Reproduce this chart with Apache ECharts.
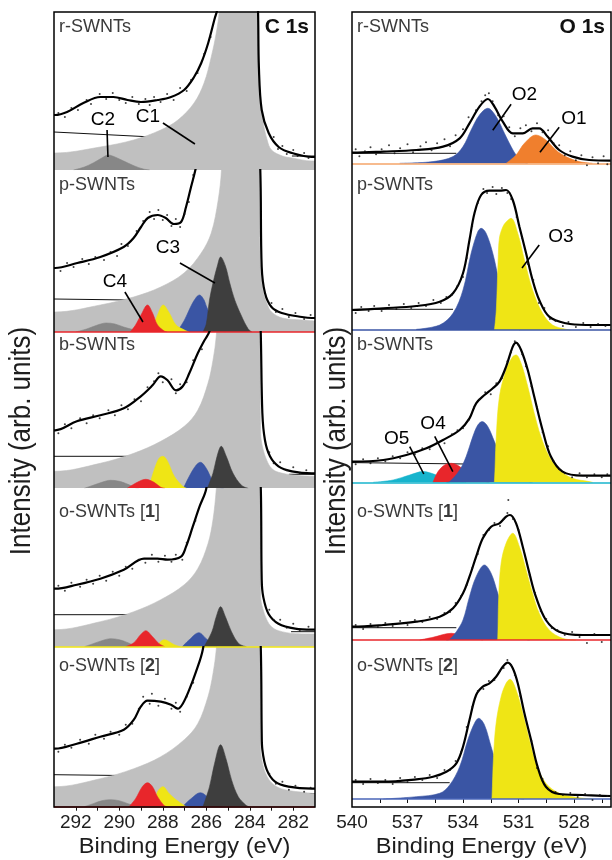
<!DOCTYPE html>
<html>
<head>
<meta charset="utf-8">
<script src="https://cdn.jsdelivr.net/npm/echarts@6/dist/echarts.min.js"></script>
<style>
  html, body { margin: 0; padding: 0; background: #fff; }
  #chart { width: 612px; height: 860px; }
</style>
</head>
<body>
<div id="chart"></div>
<script>
// XPS core-level spectra of SWNT samples: C 1s (left column) and O 1s (right column).
// Points are [binding energy (eV), intensity above the panel baseline (arb. units)].

const C_RANGE = [281, 293];
const O_RANGE = [526, 540];
const C_TICKS = [292, 290, 288, 286, 284, 282];
const O_TICKS = [540, 537, 534, 531, 528];
const C_MINOR = [292, 291, 290, 289, 288, 287, 286, 285, 284, 283, 282];
const O_MINOR = [538.5, 537, 535.5, 534, 532.5, 531, 529.5, 528, 526.5];
const SAMPLES = ['r-SWNTs', 'p-SWNTs', 'b-SWNTs', 'o-SWNTs [1]', 'o-SWNTs [2]'];

// ---------- C 1s : r-SWNTs ----------
const cR_fit = [[293,55],[292.95,55],[292.4,58],[291.65,67],[290.87,73],[290.27,73],[289.62,70],[289.0,68],[288.23,70],[287.62,73],[287.02,80],[286.56,93],[286.23,107],[285.91,127],[285.63,150],[285.45,165],[285.2,260],[284.8,420],[284.4,420],[284.0,300],[283.7,200],[283.62,160],[283.58,103],[283.45,60],[283.13,37],[282.67,23],[282.06,17],[281.14,13],[281,13]];
const cR_raw = [[292.8,57],[292.5,53],[292.2,62],[291.9,60],[291.5,70],[291.3,66],[290.9,76],[290.6,71],[290.3,77],[290.0,70],[289.7,67],[289.4,73],[289.1,66],[288.8,71],[288.6,65],[288.4,73],[288.1,68],[287.8,76],[287.5,70],[287.2,82],[286.9,79],[286.7,90],[286.4,97],[286.1,116],[285.8,133],[282.9,33],[282.7,21],[282.5,24],[282.3,16],[282.0,20],[281.8,14],[281.5,17],[281.3,12]];
const cR_c1 = [[293,17],[292.95,17],[290.87,23],[289.34,30],[288.09,40],[287.3,50],[286.56,67],[286.1,87],[285.77,113],[285.54,137],[285.4,160],[285.2,260],[284.8,420],[284.4,420],[284.0,300],[283.7,200],[283.64,158],[283.58,90],[283.4,50],[283.2,30],[283.0,20],[282.5,14],[282.06,12],[281.14,9],[281,9]];
const cR_c2 = [[292.1,0],[291.6,3],[291.2,7],[290.8,12],[290.5,15],[290.2,13],[289.8,9],[289.3,4],[288.9,1],[288.6,0]];
const cR_bgHigh = [[293,38],[288.46,33]];
const cR_bgLow = [[282.06,14],[281,14]];

// ---------- C 1s : p-SWNTs ----------
const cP_fit = [[293,64],[292.95,64],[291.93,69],[290.87,75],[289.8,85],[289.34,94],[289.0,105],[288.69,114],[288.23,117],[287.86,114],[287.49,108],[287.16,110],[286.93,125],[286.7,145],[286.47,165],[286.0,220],[285.5,320],[285.0,450],[284.5,500],[284.0,350],[283.7,220],[283.52,165],[283.45,65],[283.3,39],[283.0,25],[282.53,19],[281.6,15],[281.14,14],[281,14]];
const cP_raw = [[292.7,61],[292.4,69],[292.1,65],[291.7,73],[291.4,68],[291.1,75],[290.7,72],[290.4,80],[290.1,76],[289.9,88],[289.6,86],[289.2,101],[288.9,111],[288.6,120],[288.4,113],[288.2,122],[288.0,112],[287.8,117],[287.6,106],[287.4,113],[287.2,105],[287.0,118],[286.8,130],[286.6,157],[283.0,29],[282.8,20],[282.5,23],[282.2,15],[281.9,19],[281.5,13],[281.2,17]];
const cP_c1 = [[293,20],[292.95,20],[290.87,27],[289.34,35],[288.09,45],[287.02,59],[286.23,79],[285.77,99],[285.45,132],[285.3,162],[285.0,300],[284.6,450],[284.2,400],[283.8,250],[283.56,162],[283.52,72],[283.4,42],[283.2,28],[283.0,20],[282.5,14],[281.6,12],[281,11]];
const cP_c2 = [[292.0,0],[291.5,3],[291.0,7],[290.6,9],[290.2,8],[289.8,5],[289.3,2],[288.9,0]];
const cP_c3 = [[286.15,0],[286.0,8],[285.85,32],[285.69,49],[285.49,66],[285.34,75],[285.12,66],[284.92,49],[284.69,32],[284.38,16],[284.07,3],[283.9,0]];
const cP_blue = [[287.35,0],[287.0,12],[286.7,26],[286.45,35],[286.31,37],[286.1,32],[286.0,26],[285.62,9],[285.3,1],[285.1,0]];
const cP_yellow = [[288.55,0],[288.24,17],[287.98,27],[287.7,19],[287.39,7],[287.0,2],[286.8,0]];
const cP_c4 = [[289.5,0],[289.25,7],[289.0,17],[288.7,27],[288.47,19],[288.24,7],[287.93,1],[287.8,0]];
const cP_bgHigh = [[293,33],[289.5,32]];
const cP_bgLow = [[282.0,10],[281,10]];

// ---------- C 1s : b-SWNTs ----------
const cB_fit = [[293,58],[292.95,58],[291.95,67],[290.87,73],[289.79,80],[289.01,92],[288.47,103],[288.09,112],[287.78,108],[287.39,98],[287.08,102],[286.78,115],[286.39,135],[286.08,148],[285.85,157],[285.6,185],[285.2,300],[284.8,450],[284.3,450],[283.9,300],[283.6,200],[283.5,160],[283.42,75],[283.3,48],[283.07,32],[282.68,22],[282.06,17],[281.14,15],[281,15]];
const cB_raw = [[292.8,55],[292.5,64],[292.2,60],[291.8,70],[291.5,65],[291.2,73],[290.9,70],[290.5,78],[290.2,73],[289.9,83],[289.6,79],[289.3,89],[289.0,87],[288.7,101],[288.4,107],[288.2,115],[288.0,106],[287.6,109],[287.4,95],[287.2,104],[286.9,106],[286.6,128],[286.2,139],[283.1,36],[282.9,25],[282.6,26],[282.3,18],[282.0,21],[281.7,15],[281.4,18]];
const cB_c1 = [[293,17],[292.95,17],[290.87,25],[289.33,35],[288.09,47],[287.01,62],[286.39,78],[285.92,105],[285.69,128],[285.54,152],[285.4,200],[285.0,350],[284.6,450],[284.2,400],[283.8,250],[283.54,158],[283.5,55],[283.4,40],[283.22,28],[283.0,20],[282.68,16],[281.91,13],[281,12]];
const cB_c2 = [[291.6,0],[291.2,3],[290.8,6],[290.4,8],[290.0,7],[289.6,4],[289.3,1],[289.1,0]];
const cB_c3 = [[285.95,0],[285.69,15],[285.49,33],[285.31,42],[285.08,32],[284.77,15],[284.38,3],[284.07,0]];
const cB_blue = [[287.05,0],[286.78,12],[286.47,23],[286.27,26],[286.0,20],[285.69,7],[285.38,1],[285.2,0]];
const cB_yellow = [[288.65,0],[288.4,18],[288.17,30],[287.99,32],[287.78,27],[287.47,12],[287.08,2],[286.9,0]];
const cB_c4 = [[289.63,0],[289.17,6],[288.78,9],[288.4,6],[288.09,1],[287.9,0]];
const cB_bgHigh = [[293,32],[289.45,32]];
const cB_bgLow = [[282.2,14],[281,14]];

// ---------- C 1s : o-SWNTs [1] ----------
const cO1_fit = [[293,58],[292.95,58],[291.95,62],[290.87,68],[289.79,77],[288.86,88],[288.24,88],[287.78,87],[287.16,90],[286.93,100],[286.62,120],[286.31,140],[286.0,158],[285.6,220],[285.2,330],[284.8,450],[284.3,450],[283.9,300],[283.6,200],[283.49,157],[283.45,67],[283.38,50],[283.14,33],[282.68,23],[281.91,18],[281.14,17],[281,17]];
const cO1_raw = [[292.8,61],[292.5,56],[292.2,64],[291.8,60],[291.5,67],[291.2,63],[290.9,71],[290.6,66],[290.3,75],[290.0,71],[289.7,80],[289.4,78],[289.1,87],[288.8,84],[288.5,92],[288.2,85],[287.9,91],[287.6,85],[287.4,92],[287.1,87],[286.9,104],[286.5,126],[283.1,37],[282.9,27],[282.6,27],[282.3,19],[282.0,23],[281.7,16],[281.3,20]];
const cO1_c1 = [[293,17],[292.95,17],[290.87,25],[289.33,35],[288.09,47],[287.01,62],[286.39,78],[285.92,103],[285.69,127],[285.54,157],[285.4,200],[285.0,350],[284.6,450],[284.2,400],[283.8,250],[283.54,158],[283.5,50],[283.4,38],[283.22,27],[283.0,20],[282.68,16],[281.91,13],[281,12.7]];
const cO1_c2 = [[291.6,0],[291.2,3],[290.8,6],[290.4,8],[290.0,7],[289.6,4],[289.3,1],[289.1,0]];
const cO1_c3 = [[286.1,0],[285.74,15],[285.54,30],[285.34,40],[285.12,30],[284.84,15],[284.5,3],[284.15,0]];
const cO1_blue = [[287.1,0],[286.78,7],[286.34,14],[286.0,8],[285.62,1],[285.5,0]];
const cO1_yellow = [[288.3,0],[287.93,7],[287.47,2],[287.2,0]];
const cO1_c4 = [[289.71,0],[289.33,4],[289.02,12],[288.78,16],[288.47,10],[288.17,3],[287.9,0]];
const cO1_bgHigh = [[293,32],[289.2,32]];
const cO1_bgLow = [[282.1,15],[281,15]];

// ---------- C 1s : o-SWNTs [2] ----------
const cO2_fit = [[293,58],[292.95,58],[291.95,63],[290.87,70],[289.79,77],[289.33,87],[289.01,100],[288.7,106],[288.09,105],[287.62,102],[287.31,98],[287.08,103],[286.78,117],[286.47,135],[286.16,157],[285.8,210],[285.3,330],[284.8,450],[284.3,450],[283.9,300],[283.6,200],[283.49,157],[283.45,73],[283.42,57],[283.22,37],[282.84,25],[282.22,20],[281.14,18],[281,18]];
const cO2_raw = [[292.8,55],[292.5,62],[292.2,59],[291.8,67],[291.4,63],[291.1,72],[290.7,68],[290.4,75],[290.0,72],[289.7,82],[289.4,83],[289.1,98],[288.9,110],[288.6,103],[288.5,113],[288.2,101],[287.9,108],[287.6,98],[287.4,104],[287.2,95],[286.9,110],[286.6,124],[283.1,33],[282.8,23],[282.5,25],[282.2,17],[281.9,21],[281.5,15],[281.2,19]];
const cO2_c1 = [[293,20],[292.95,20],[290.87,28],[289.33,38],[288.09,50],[287.01,67],[286.39,83],[285.92,110],[285.69,133],[285.54,157],[285.4,200],[285.0,350],[284.6,450],[284.2,400],[283.8,250],[283.54,158],[283.5,57],[283.4,42],[283.2,30],[282.9,22],[282.4,17],[281.4,14],[281,13]];
const cO2_c2 = [[291.6,0],[291.2,3],[290.8,6],[290.4,7],[290.0,6],[289.6,3],[289.3,1],[289.1,0]];
const cO2_c3 = [[286.15,0],[285.85,20],[285.62,43],[285.34,62],[285.08,47],[284.84,27],[284.53,10],[284.2,2],[284.05,0]];
const cO2_blue = [[287.1,0],[286.7,8],[286.27,14],[285.85,8],[285.46,1],[285.3,0]];
const cO2_yellow = [[288.45,0],[288.24,15],[287.99,20],[287.7,13],[287.39,7],[287.0,1],[286.9,0]];
const cO2_c4 = [[289.55,0],[289.25,8],[288.94,20],[288.7,24],[288.47,20],[288.24,10],[287.93,1],[287.8,0]];
const cO2_bgHigh = [[293,32],[289.2,31]];
const cO2_bgLow = [[282.0,13],[281,13]];

// ---------- O 1s : r-SWNTs ----------
const oR_fit = [[540,10.7],[539.93,10.7],[538.31,11.7],[536.52,13.3],[535.08,16.7],[534.18,25],[533.65,40],[533.11,56.7],[532.66,64.3],[532.3,56.7],[531.85,41.7],[531.31,30],[530.77,30],[530.24,35],[529.88,35],[529.43,26.7],[528.8,13.3],[528.08,6.7],[527.18,3.3],[526.02,2.7],[526,2.7]];
const oR_raw = [[539.8,14],[539.6,7],[539.3,12],[539.0,16],[538.7,9],[538.4,14],[538.0,18],[537.7,10],[537.4,15],[537.0,19],[536.7,11],[536.3,17],[536.0,21],[535.7,13],[535.4,20],[535.0,24],[534.7,17],[534.4,28],[534.0,34],[533.7,46],[533.3,53],[533.0,62],[532.8,68],[532.6,70],[532.4,62],[532.1,48],[531.8,47],[531.5,36],[531.2,27],[530.9,35],[530.6,38],[530.3,32],[530.0,40],[529.7,31],[529.4,33],[529.1,20],[528.8,18],[528.5,8],[528.2,12],[527.9,3],[527.6,8],[527.3,-2],[527.0,6],[526.7,0],[526.4,7],[526.2,-1]];
const oR_o2 = [[537.42,0],[535.62,1.7],[534.54,6.7],[534.0,16.7],[533.56,33.3],[533.11,48.3],[532.66,55],[532.21,46.7],[531.76,30],[531.4,16.7],[531.13,8.3],[530.77,1.7],[530.5,0]];
const oR_o1 = [[531.67,0],[531.13,8.3],[530.68,20],[530.06,28.3],[529.52,23.3],[528.98,13.3],[528.44,6.7],[527.72,1.7],[527.0,0]];
const oR_bgHigh = [[540,10],[534.36,10]];

// ---------- O 1s : p-SWNTs ----------
const oP_fit = [[540,20],[539.93,20],[538.31,21.7],[536.52,24],[535.26,28.3],[534.54,36.7],[534.0,56.7],[533.65,90],[533.38,116.7],[533.02,135],[532.57,139.3],[532.03,139.3],[531.67,140],[531.31,130],[530.95,103.3],[530.59,76.7],[530.24,50],[529.88,30],[529.34,13.3],[528.44,6.7],[527.36,5],[526.02,5],[526,5]];
const oP_raw = [[539.8,17],[539.5,23],[539.1,19],[538.8,24],[538.4,19],[538.0,25],[537.6,21],[537.2,26],[536.8,22],[536.4,27],[536.0,24],[535.6,30],[535.2,27],[534.9,33],[534.6,35],[534.3,44],[534.0,53],[533.8,72],[533.5,104],[533.2,127],[532.9,141],[532.7,137],[532.4,143],[532.2,136],[531.9,142],[531.6,137],[531.4,131],[531.1,113],[530.8,92],[530.5,66],[530.2,50],[529.9,27],[529.6,22],[529.3,11],[529.0,9],[528.6,4],[528.3,8],[527.9,3],[527.5,7],[527.1,3],[526.7,6],[526.3,4]];
const oP_o2 = [[536.52,0.7],[535.26,5],[534.54,16.7],[534.0,40],[533.56,76.7],[533.2,98.3],[533.02,101.7],[532.75,96.7],[532.39,76.7],[532.03,46.7],[531.67,20],[531.31,5],[530.95,0]];
const oP_o3 = [[532.3,0],[532.2,20],[532.1,70],[532.03,92],[531.85,103],[531.67,108],[531.4,111.7],[531.04,96.7],[530.68,70],[530.24,40],[529.7,16.7],[529.16,5],[528.44,0.7],[528.2,0]];
const oP_bgHigh = [[540,20.7],[534.54,20.7]];

// ---------- O 1s : b-SWNTs ----------
const oB_fit = [[540,20.7],[539.93,20.7],[538.31,22.3],[537.06,27.3],[535.98,34],[535.08,42.3],[534.18,52.3],[533.65,64],[533.29,79],[532.84,87.3],[532.39,94],[532.03,100.7],[531.67,115.7],[531.31,135.7],[531.13,139.7],[530.86,132.3],[530.5,112.3],[530.15,85.7],[529.7,52.3],[529.25,25.7],[528.62,10.7],[527.54,6.7],[526.02,6.7],[526,6.7]];
const oB_raw = [[539.8,18],[539.4,23],[539.0,19],[538.6,24],[538.2,21],[537.8,26],[537.4,24],[537.0,30],[536.6,28],[536.2,34],[535.8,33],[535.4,40],[535.0,39],[534.6,48],[534.3,52],[534.0,54],[533.7,62],[533.4,75],[533.1,83],[532.8,90],[532.5,88],[532.2,99],[531.9,104],[531.6,121],[531.4,130],[531.2,141],[531.0,137],[530.8,128],[530.6,116],[530.3,96],[530.0,75],[529.7,50],[529.4,36],[529.1,21],[528.8,13],[528.5,9],[528.1,5],[527.7,9],[527.3,5],[526.9,8],[526.5,5],[526.2,8]];
const oB_o5 = [[538.85,0],[537.77,2.3],[536.88,7.3],[536.16,10.7],[535.44,7.3],[534.72,2.3],[533.83,0]];
const oB_o4 = [[535.62,0],[535.35,10.7],[534.99,17.3],[534.63,19],[534.18,15.7],[533.65,7.3],[533.11,2.3],[532.57,0]];
const oB_o2 = [[534.9,0],[534.72,0.7],[534.18,12.3],[533.83,25.7],[533.47,45.7],[533.2,57.3],[532.96,60.7],[532.66,55.7],[532.3,40.7],[531.85,22.3],[531.31,9],[530.77,2.3],[530.24,0]];
const oB_o3 = [[532.35,0],[532.3,0.7],[532.21,42.3],[532.03,85.7],[531.67,112.3],[531.31,125.7],[531.13,127.3],[530.86,119],[530.5,95.7],[530.15,69],[529.79,45.7],[529.34,25.7],[528.8,12.3],[528.08,4],[527.18,0.7],[527,0]];
const oB_bgHigh = [[540,19.7],[533.83,18.3]];

// ---------- O 1s : o-SWNTs [1] ----------
const oO1_fit = [[540,13.3],[539.93,13.3],[538.31,15],[536.52,18.3],[535.26,23.3],[534.54,31.7],[534.0,46.7],[533.65,63.3],[533.29,83.3],[532.93,101.7],[532.48,113.3],[532.03,116.7],[531.67,123.3],[531.46,125],[531.13,116.7],[530.77,93.3],[530.41,66.7],[530.06,43.3],[529.52,20],[528.8,8.3],[527.54,5],[526.02,5],[526,5]];
const oO1_raw = [[539.8,15],[539.4,11],[539.0,16],[538.6,13],[538.2,17],[537.8,14],[537.4,19],[537.0,15],[536.6,20],[536.2,18],[535.8,23],[535.4,21],[535.0,27],[534.7,28],[534.4,37],[534.1,44],[533.8,55],[533.5,72],[533.2,86],[532.9,105],[532.6,110],[532.3,117],[532.0,114],[531.8,121],[531.6,127],[531.55,140],[531.3,121],[531.0,110],[530.7,88],[530.4,65],[530.1,47],[529.8,29],[529.5,21],[529.2,12],[528.9,10],[528.5,5],[528.1,8],[527.7,3],[527.3,-3],[526.9,6],[526.5,-2]];
const oO1_o4 = [[536.34,0],[535.62,2.7],[534.63,6.7],[533.83,3.3],[532.93,0]];
const oO1_o2 = [[534.9,0],[534.72,0.7],[534.36,8.3],[534.0,20],[533.65,43.3],[533.29,63.3],[532.84,75],[532.48,66.7],[532.12,46.7],[531.67,23.3],[531.13,6.7],[530.59,0.7],[530.4,0]];
const oO1_o3 = [[532.15,0],[532.12,1.7],[532.07,43.3],[531.94,76.7],[531.67,96.7],[531.31,106.7],[530.95,93.3],[530.59,70],[530.24,46.7],[529.88,26.7],[529.34,10],[528.62,1.7],[527.9,0]];
const oO1_bgHigh = [[540,12.3],[534.36,12.3]];

// ---------- O 1s : o-SWNTs [2] ----------
const oO2_fit = [[540,17.3],[539.93,17.3],[538.31,17.3],[536.52,19.7],[535.62,22.3],[534.9,27.3],[534.36,35.7],[534.0,52.3],[533.65,79],[533.29,104],[532.93,112.3],[532.57,115.7],[532.21,122.3],[531.85,132.3],[531.58,136.3],[531.31,130.7],[531.04,115.7],[530.68,85.7],[530.32,59],[529.97,32.3],[529.52,12.3],[528.8,5],[527.54,4],[526.02,3],[526,3]];
const oO2_raw = [[539.8,19],[539.4,15],[539.0,20],[538.6,16],[538.2,19],[537.8,15],[537.4,21],[537.0,17],[536.6,22],[536.2,19],[535.8,24],[535.4,21],[535.0,29],[534.7,29],[534.4,38],[534.1,47],[533.8,72],[533.5,92],[533.2,108],[532.9,110],[532.6,118],[532.3,119],[532.0,128],[531.8,131],[531.6,139],[531.4,134],[531.2,124],[530.9,103],[530.6,79],[530.3,58],[530.0,31],[529.7,20],[529.4,10],[529.0,7],[528.6,4],[528.2,6],[527.8,2],[527.4,5],[527.0,-1],[526.6,4],[526.2,3]];
const oO2_o2 = [[538.31,0],[536.52,2.3],[535.26,5.7],[534.72,14],[534.18,32.3],[533.74,59],[533.38,75.7],[533.15,80.7],[532.84,74],[532.48,52.3],[532.03,25.7],[531.58,9],[530.95,0.7],[530.7,0]];
const oO2_o3 = [[532.45,0],[532.43,2.3],[532.35,42.3],[532.21,75.7],[531.94,102.3],[531.67,115.7],[531.46,119.7],[531.13,109],[530.77,85.7],[530.41,59],[530.06,35.7],[529.52,15.7],[528.8,5.7],[527.9,1.7],[527.0,0]];
const oO2_bgHigh = [[540,16.3],[534.72,16.3]];

// Peak labels with their leader lines: label anchor, leader start, leader end.
const cR_notes = [{ text: 'C1', at: [288.68, 53], from: [287.99, 47], to: [286.52, 26] },
                  { text: 'C2', at: [290.75, 50], from: [290.56, 40], to: [290.52, 13] }];
const cP_notes = [{ text: 'C3', at: [287.76, 84], from: [287.21, 69], to: [285.6, 49] },
                  { text: 'C4', at: [290.2, 50], from: [289.74, 40], to: [288.91, 10] }];
const oR_notes = [{ text: 'O2', at: [530.68, 69], from: [531.4, 59], to: [532.39, 33] },
                  { text: 'O1', at: [528.0, 45], from: [528.8, 36], to: [529.84, 11] }];
const oP_notes = [{ text: 'O3', at: [528.71, 93], from: [529.88, 85], to: [530.81, 62] }];
const oB_notes = [{ text: 'O5', at: [537.59, 44], from: [536.88, 35.6], to: [536.12, 8.3] },
                  { text: 'O4', at: [535.62, 59], from: [535.53, 46], to: [534.55, 10.6] }];

// ---------- styling / layout ----------
const FONT = '"Liberation Sans", Arial, Helvetica, sans-serif';
const COL = {
  c1: '#c0c0c0', c2: '#878787', c3: '#3e3e3e', blue: '#3a55a4', yellow: '#efe515',
  red: '#e8262b', orange: '#f07f2d', cyan: '#17b4cd', orangeLine: '#f5a468'
};
const ROWS = [[12, 170], [170, 332], [332, 488], [488, 647], [647, 807]];
const COLS = [[54, 315], [352, 611]];
const BASELINE = [[170, 332, 488.3, 646.7, 806.7], [163.3, 330, 482.3, 640, 799]];
const TITLE_Y = [27, 185, 345, 512, 666];

const panels = [
  [
    { fit: cR_fit, raw: cR_raw, bg: [cR_bgHigh, cR_bgLow], comps: [[cR_c1, COL.c1], [cR_c2, COL.c2]], base: null, notes: cR_notes },
    { fit: cP_fit, raw: cP_raw, bg: [cP_bgHigh, cP_bgLow], comps: [[cP_c1, COL.c1], [cP_c2, COL.c2], [cP_blue, COL.blue], [cP_c3, COL.c3], [cP_yellow, COL.yellow], [cP_c4, COL.red]], base: COL.red, notes: cP_notes },
    { fit: cB_fit, raw: cB_raw, bg: [cB_bgHigh, cB_bgLow], comps: [[cB_c1, COL.c1], [cB_c2, COL.c2], [cB_blue, COL.blue], [cB_c3, COL.c3], [cB_yellow, COL.yellow], [cB_c4, COL.red]], base: COL.red, notes: [] },
    { fit: cO1_fit, raw: cO1_raw, bg: [cO1_bgHigh, cO1_bgLow], comps: [[cO1_c1, COL.c1], [cO1_c2, COL.c2], [cO1_blue, COL.blue], [cO1_c3, COL.c3], [cO1_yellow, COL.yellow], [cO1_c4, COL.red]], base: COL.yellow, notes: [] },
    { fit: cO2_fit, raw: cO2_raw, bg: [cO2_bgHigh, cO2_bgLow], comps: [[cO2_c1, COL.c1], [cO2_c2, COL.c2], [cO2_blue, COL.blue], [cO2_c3, COL.c3], [cO2_yellow, COL.yellow], [cO2_c4, COL.red]], base: COL.red, notes: [] }
  ],
  [
    { fit: oR_fit, raw: oR_raw, bg: [oR_bgHigh], comps: [[oR_o2, COL.blue], [oR_o1, COL.orange]], base: COL.orangeLine, notes: oR_notes },
    { fit: oP_fit, raw: oP_raw, bg: [oP_bgHigh], comps: [[oP_o2, COL.blue], [oP_o3, COL.yellow]], base: COL.blue, notes: oP_notes },
    { fit: oB_fit, raw: oB_raw, bg: [oB_bgHigh], comps: [[oB_o5, COL.cyan], [oB_o4, COL.red], [oB_o2, COL.blue], [oB_o3, COL.yellow]], base: COL.cyan, notes: oB_notes },
    { fit: oO1_fit, raw: oO1_raw, bg: [oO1_bgHigh], comps: [[oO1_o4, COL.red], [oO1_o2, COL.blue], [oO1_o3, COL.yellow]], base: COL.red, notes: [] },
    { fit: oO2_fit, raw: oO2_raw, bg: [oO2_bgHigh], comps: [[oO2_o2, COL.blue], [oO2_o3, COL.yellow]], base: '#4a66b8', notes: [] }
  ]
];

const option = { animation: false, grid: [], xAxis: [], yAxis: [], series: [], graphic: [] };

COLS.forEach(([left, right], c) => {
  ROWS.forEach(([top, bottom], r) => {
    const g = c * 5 + r;
    const base = BASELINE[c][r];
    const range = c === 0 ? C_RANGE : O_RANGE;
    const last = r === 4;
    option.grid.push({ left: left, top: top, width: right - left, height: bottom - top });
    option.xAxis.push({
      type: 'value', gridIndex: g, min: range[0], max: range[1], inverse: true,
      axisLine: { show: false }, splitLine: { show: false },
      axisTick: {
        show: last, customValues: c === 0 ? C_MINOR : O_MINOR, length: 4, inside: false,
        lineStyle: { color: '#111', width: 1 }
      },
      axisLabel: {
        show: last, customValues: c === 0 ? C_TICKS : O_TICKS,
        fontSize: 19, color: '#1e1e1e', fontFamily: FONT, margin: 6
      }
    });
    option.yAxis.push({ type: 'value', gridIndex: g, min: -(bottom - base), max: base - top, show: false });

    const p = panels[c][r];
    const common = {
      type: 'line', xAxisIndex: g, yAxisIndex: g, symbol: 'none', silent: true,
      smooth: 0.35, clip: true
    };
    p.bg.forEach(seg => option.series.push(Object.assign({}, common, {
      data: seg, smooth: false, lineStyle: { color: '#111', width: 1 }, z: 1
    })));
    p.comps.forEach(([data, color], k) => option.series.push(Object.assign({}, common, {
      data: data, lineStyle: { color: color, width: 0.6 }, areaStyle: { color: color, opacity: 1 }, z: 2 + k * 0.01
    })));

    const marks = [];
    if (p.base) marks.push({ yAxis: 0, lineStyle: { color: p.base, width: 1.6, type: 'solid' } });
    p.notes.forEach(n => marks.push([{ coord: n.from }, { coord: n.to }]));
    option.series.push(Object.assign({}, common, {
      data: p.fit, lineStyle: { color: '#000', width: 2.2 }, z: 5,
      markLine: {
        silent: true, symbol: ['none', 'none'], label: { show: false },
        lineStyle: { color: '#000', width: 1.6, type: 'solid' }, data: marks
      }
    }));
    // measured counts scattered about the fitted envelope
    option.series.push({
      type: 'scatter', xAxisIndex: g, yAxisIndex: g, silent: true, symbol: 'circle', symbolSize: 2,
      itemStyle: { color: '#111' }, z: 5.5, data: p.raw, clip: true
    });
    if (p.notes.length) {
      option.series.push({
        type: 'scatter', xAxisIndex: g, yAxisIndex: g, silent: true, symbolSize: 1,
        itemStyle: { color: 'rgba(0,0,0,0)' }, z: 6,
        data: p.notes.map(n => ({ value: n.at, name: n.text })),
        label: {
          show: true, position: 'inside', formatter: '{b}', fontSize: 19,
          color: '#000', fontFamily: FONT, textBorderWidth: 0, opacity: 1
        }
      });
    }

    // sample name in the upper-left corner of each panel
    const nm = SAMPLES[r].match(/^(.*\[)(\d)(\])$/);
    option.graphic.push({
      type: 'text', x: left + 5, y: TITLE_Y[r], z: 50,
      style: {
        text: nm ? '{n|' + nm[1] + '}{b|' + nm[2] + '}{n|' + nm[3] + '}' : SAMPLES[r],
        fontSize: 18, fontFamily: FONT, fill: '#3a3a3a', verticalAlign: 'middle',
        rich: { n: { fontSize: 18, fontFamily: FONT, color: '#3a3a3a' },
                b: { fontSize: 18, fontFamily: FONT, color: '#222', fontWeight: 'bold' } }
      }
    });
  });
  // column frame
  option.graphic.push({
    type: 'rect', z: 60, silent: true,
    shape: { x: left, y: ROWS[0][0], width: right - left, height: ROWS[4][1] - ROWS[0][0] },
    style: { fill: 'none', stroke: '#000', lineWidth: 1.5 }
  });
  // core level tag
  option.graphic.push({
    type: 'text', x: right - 6, y: 27, z: 50,
    style: { text: c === 0 ? 'C 1s' : 'O 1s', fontSize: 21, fontWeight: 'bold', fontFamily: FONT,
             fill: '#111', align: 'right', verticalAlign: 'middle' }
  });
  // axis titles
  option.graphic.push({
    type: 'text', x: (left + right) / 2, y: 847, z: 50, scaleX: 1.1,
    style: { text: 'Binding Energy (eV)', fontSize: 21.5, fontFamily: FONT, fill: '#1e1e1e',
             align: 'center', verticalAlign: 'middle' }
  });
  option.graphic.push({
    type: 'text', x: c === 0 ? 22 : 337, y: 441, rotation: Math.PI / 2, scaleY: 1.1, z: 50,
    style: { text: 'Intensity (arb. units)', fontSize: 26, fontFamily: FONT, fill: '#1e1e1e',
             align: 'center', verticalAlign: 'middle' }
  });
});

const chart = echarts.init(document.getElementById('chart'), null, { renderer: 'canvas' });
chart.setOption(option);
</script>
</body>
</html>
